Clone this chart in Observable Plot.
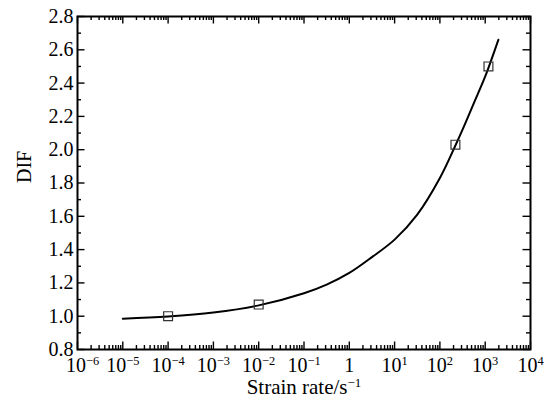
<!DOCTYPE html>
<html>
<head>
<meta charset="utf-8">
<script src="https://cdn.jsdelivr.net/npm/d3@7"></script>
<script src="https://cdn.jsdelivr.net/npm/@observablehq/plot@0.6"></script>
<style>
  html, body { margin: 0; padding: 0; background: #fff; }
  #chart svg { display: block; }
</style>
</head>
<body>
<div id="chart"></div>
<script>
// Fitted DIF curve versus strain rate
const fitRate = [1e-5, 1e-4, 1e-3, 1e-2, 0.1, 0.316, 1, 3.16, 10, 31.6, 100, 220, 316, 562, 1000, 1950];
const fitDIF  = [0.985, 0.998, 1.022, 1.065, 1.138, 1.19, 1.26, 1.355, 1.46, 1.61, 1.83, 2.025, 2.12, 2.28, 2.44, 2.66];

// Test results (hollow squares)
const testRate = [1e-4, 1e-2, 220, 1180];
const testDIF  = [1.00, 1.07, 2.03, 2.50];

// Axis ticks and their labels ("^" marks an exponent)
const xTicks = [1e-6, 1e-5, 1e-4, 1e-3, 1e-2, 1e-1, 1, 1e1, 1e2, 1e3, 1e4];
const xTickLabels = ["10^−6", "10^−5", "10^−4", "10^−3", "10^−2", "10^−1", "1", "10^1", "10^2", "10^3", "10^4"];
const yTicks = [0.8, 1.0, 1.2, 1.4, 1.6, 1.8, 2.0, 2.2, 2.4, 2.6, 2.8];
const yTickLabels = ["0.8", "1.0", "1.2", "1.4", "1.6", "1.8", "2.0", "2.2", "2.4", "2.6", "2.8"];
const yMinor = [0.9, 1.1, 1.3, 1.5, 1.7, 1.9, 2.1, 2.3, 2.5, 2.7];
const xMinor = xTicks.slice(0, -1).flatMap(d => [2, 3, 4, 5, 6, 7, 8, 9].map(k => k * d));

const xTitle = "Strain rate/s^−1";
const yTitle = "DIF";

const W = 550, H = 401;
const mt = 16, mb = 52, ml = 77, mr = 20;
const innerW = W - ml - mr, innerH = H - mt - mb;
const majorLen = 7.5, minorLen = 4;

const tickStyle = {stroke: "#000", strokeWidth: 1.4};

const chart = Plot.plot({
  width: W,
  height: H,
  marginTop: mt,
  marginBottom: mb,
  marginLeft: ml,
  marginRight: mr,
  style: {
    fontFamily: "'Liberation Serif', 'Times New Roman', serif",
    fontSize: "20px",
    color: "#000",
    background: "#fff"
  },
  x: {type: "log", domain: [1e-6, 1e4]},
  y: {domain: [0.8, 2.8]},
  marks: [
    Plot.axisX(xTicks, {
      tickSize: 0, tickPadding: 8, label: null, fontSize: 20,
      tickFormat: d => xTickLabels[xTicks.indexOf(d)]
    }),
    Plot.axisY(yTicks, {
      tickSize: 0, tickPadding: 4, label: null, fontSize: 20,
      tickFormat: d => yTickLabels[yTicks.indexOf(d)]
    }),
    // inward ticks on all four sides
    Plot.ruleX(xTicks, {x: d => d, insetTop: innerH - majorLen, ...tickStyle}),
    Plot.ruleX(xTicks, {x: d => d, insetBottom: innerH - majorLen, ...tickStyle}),
    Plot.ruleX(xMinor, {x: d => d, insetTop: innerH - minorLen, ...tickStyle}),
    Plot.ruleX(xMinor, {x: d => d, insetBottom: innerH - minorLen, ...tickStyle}),
    Plot.ruleY(yTicks, {y: d => d, insetRight: innerW - majorLen, ...tickStyle}),
    Plot.ruleY(yTicks, {y: d => d, insetLeft: innerW - majorLen, ...tickStyle}),
    Plot.ruleY(yMinor, {y: d => d, insetRight: innerW - minorLen, ...tickStyle}),
    Plot.ruleY(yMinor, {y: d => d, insetLeft: innerW - minorLen, ...tickStyle}),
    // fitted curve
    Plot.line(fitRate, {x: fitRate, y: fitDIF, curve: "catmull-rom", stroke: "#000", strokeWidth: 2}),
    // test points
    Plot.dot(testRate, {x: testRate, y: testDIF, symbol: "square", r: 5, fill: "none", stroke: "#333", strokeWidth: 1.2}),
    // axis titles
    Plot.text([xTitle], {frameAnchor: "bottom", dy: 44, fontSize: 21, text: d => d}),
    Plot.text([yTitle], {frameAnchor: "left", dx: -53, rotate: -90, fontSize: 20, text: d => d}),
    Plot.frame({stroke: "#000", strokeWidth: 2})
  ]
});

// Render "base^exp" strings with a raised, smaller exponent
d3.select(chart).selectAll("text").each(function () {
  const t = this.textContent;
  if (!t.includes("^")) return;
  const [base, exp] = t.split("^");
  const sel = d3.select(this);
  sel.text(null);
  sel.append("tspan").text(base);
  sel.append("tspan").attr("dy", -7).attr("font-size", "0.62em").text(exp);
  // nudge the leftmost x label clear of the y-axis labels
  if (t === xTickLabels[0]) sel.attr("dx", 5);
});

document.getElementById("chart").append(chart);
</script>
</body>
</html>
